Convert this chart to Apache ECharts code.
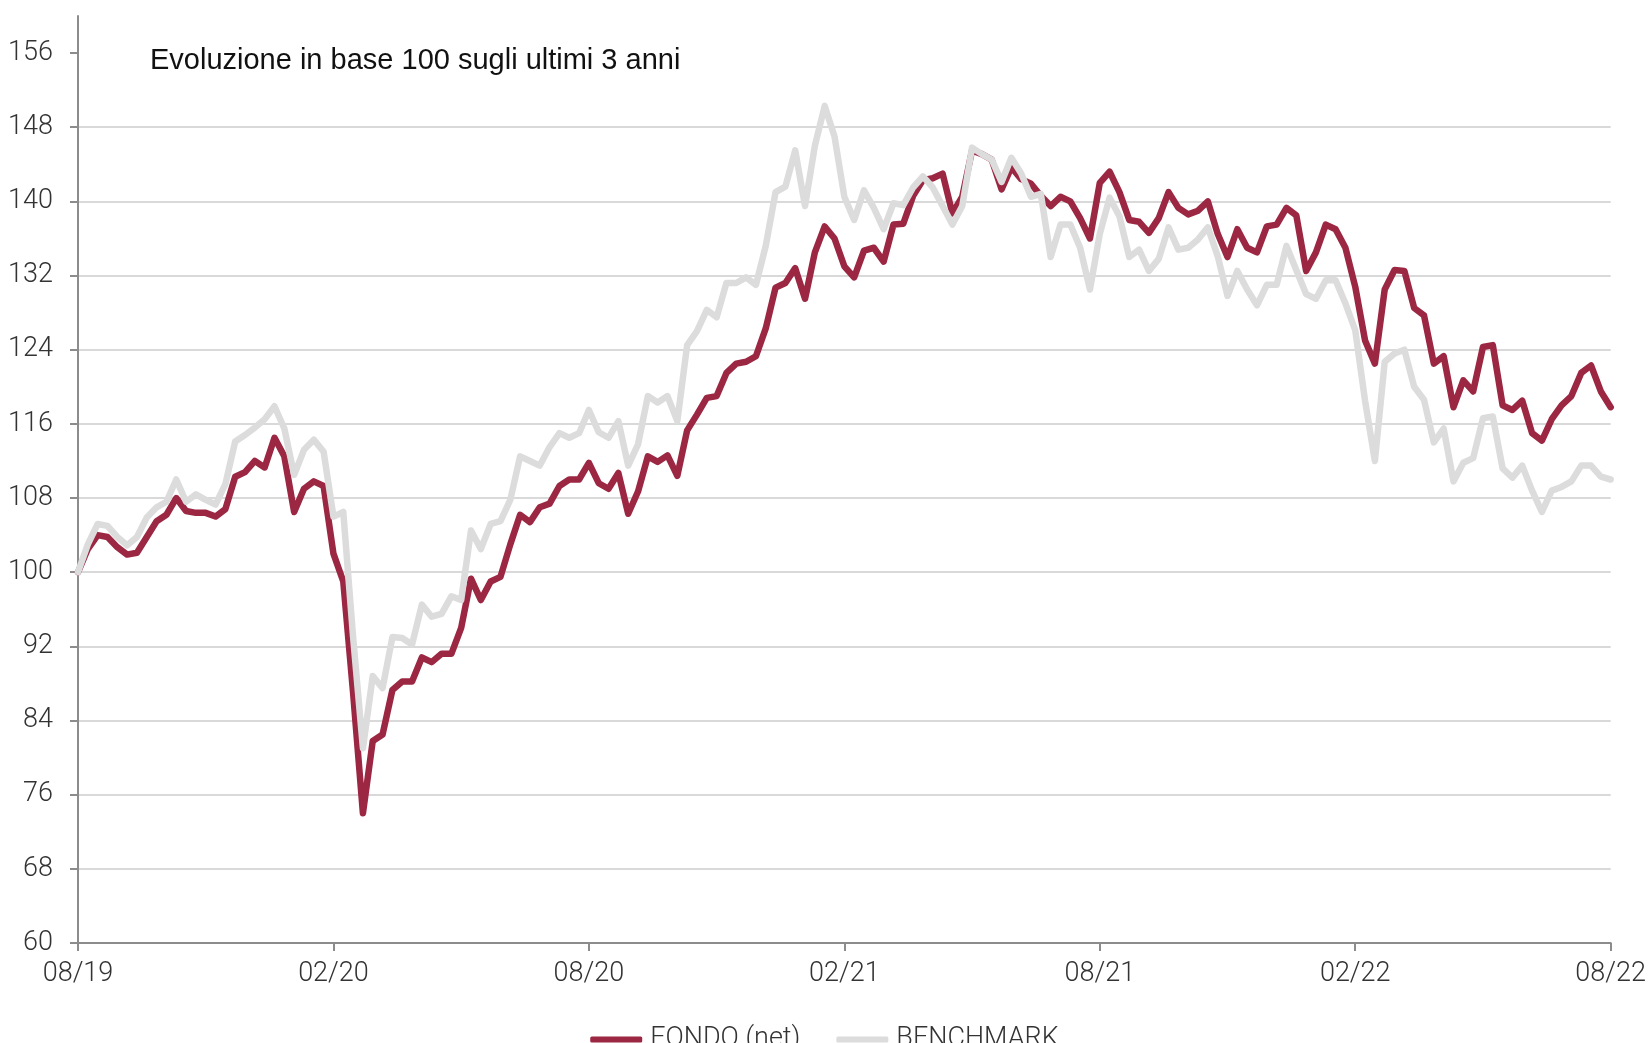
<!DOCTYPE html>
<html>
<head>
<meta charset="utf-8">
<script src="https://cdn.jsdelivr.net/npm/echarts@6/dist/echarts.min.js"></script>
<style>
html,body{margin:0;padding:0;background:#fff;}
#chart{width:1649px;height:1043px;}
</style>
</head>
<body>
<div id="chart"></div>
<script>
// Weekly observations, 08/2019 -> 08/2022 (157 points)
const startDate = '2019-08-30';
const tickLabels = ['08/19','02/20','08/20','02/21','08/21','02/22','08/22'];
const yTicks = [60,68,76,84,92,100,108,116,124,132,140,148,156];

const fondo = [
100,102.5,104,103.8,102.7,101.9,102.1,103.8,105.5,106.2,
108,106.6,106.4,106.4,106,106.8,110.3,110.8,112,111.3,
114.5,112.5,106.5,109,109.8,109.3,102,99,87,74,
81.8,82.5,87.3,88.2,88.2,90.8,90.3,91.2,91.2,94,
99.3,97,99,99.5,103,106.2,105.4,107,107.4,109.3,
110,110,111.8,109.6,109,110.7,106.3,108.7,112.5,111.9,
112.6,110.4,115.3,117,118.8,119,121.5,122.5,122.7,123.3,
126.3,130.7,131.2,132.8,129.5,134.5,137.3,136,133,131.8,
134.7,135,133.5,137.5,137.6,140.6,142.3,142.5,143,138.7,
140.5,145.5,145.1,144.5,141.3,143.7,142.4,141.9,140.6,139.5,
140.5,140,138.2,136,142,143.2,141,138,137.8,136.6,
138.2,141,139.3,138.6,139,140,136.5,134,137,135,
134.5,137.3,137.5,139.3,138.5,132.5,134.5,137.5,137,135,
130.8,125,122.5,130.5,132.6,132.5,128.5,127.7,122.5,123.3,
117.8,120.7,119.5,124.3,124.5,118,117.5,118.5,115,114.2,
116.5,118,119,121.5,122.3,119.5,117.8
];

const benchmark = [
100,103,105.2,105,103.8,102.9,103.8,105.9,107,107.6,
110,107.6,108.4,107.8,107.3,109.5,114.1,114.8,115.6,116.5,
117.9,115.5,110.5,113.2,114.3,113,106,106.5,93,81,
88.8,87.5,93,92.9,92.2,96.5,95.2,95.5,97.4,97,
104.5,102.5,105.2,105.5,107.8,112.5,112,111.5,113.5,115,
114.5,115,117.5,115.1,114.5,116.3,111.5,113.8,119,118.3,
119,116.3,124.5,126,128.3,127.5,131.2,131.2,131.8,131,
135.2,141,141.6,145.5,139.5,146,150.3,147,140.5,138,
141.2,139.3,137,139.8,139.6,141.5,142.7,141.5,139.5,137.5,
139.5,145.8,145.1,144.5,142.1,144.7,143,140.5,140.8,134,
137.5,137.5,135,130.5,136.5,140.4,138.4,134,134.8,132.5,
133.8,137.2,134.8,135,135.9,137.2,134.1,129.8,132.5,130.5,
128.8,131,131,135.2,132.6,130,129.5,131.5,131.5,129,
126.1,118.5,112,122.7,123.6,124,120,118.6,114,115.5,
109.8,111.8,112.3,116.6,116.8,111.2,110.2,111.5,108.8,106.5,
108.8,109.2,109.8,111.5,111.5,110.3,110
];

// category dates (weekly)
const categories = [];
{
  const d0 = new Date(startDate + 'T00:00:00Z');
  for (let i = 0; i < fondo.length; i++) {
    const d = new Date(d0.getTime() + i * 7 * 86400000);
    categories.push(d.toISOString().slice(0, 10));
  }
}
const tickStep = 26;

const tickFont = "Roboto, 'Liberation Sans', sans-serif";

const chart = echarts.init(document.getElementById('chart'), null, {renderer: 'canvas'});
chart.setOption({
  backgroundColor: '#ffffff',
  animation: false,
  title: {
    text: 'Evoluzione in base 100 sugli ultimi 3 anni',
    left: 150,
    top: 46,
    padding: 0,
    textStyle: {
      fontFamily: "'Liberation Sans', Arial, sans-serif",
      fontSize: 29,
      fontWeight: 'normal',
      color: '#111111'
    }
  },
  legend: {
    data: ['FONDO (net)', 'BENCHMARK'],
    left: 'center',
    top: 1021,
    icon: 'roundRect',
    itemWidth: 52,
    itemHeight: 6,
    itemGap: 36,
    textStyle: {
      fontFamily: tickFont,
      fontWeight: 300,
      fontSize: 27,
      color: '#333333',
      padding: [0, 0, 0, 3]
    }
  },
  grid: {
    left: 78,
    right: 36,
    top: 16,
    bottom: 100,
    containLabel: false
  },
  xAxis: {
    type: 'category',
    data: categories,
    boundaryGap: false,
    axisLine: {lineStyle: {color: '#8c8c8c', width: 2}},
    axisTick: {
      interval: function (idx) { return idx % tickStep === 0; },
      length: 8,
      lineStyle: {color: '#8c8c8c', width: 2}
    },
    axisLabel: {
      interval: function (idx) { return idx % tickStep === 0; },
      formatter: function (value, idx) {
        return idx % tickStep === 0 ? tickLabels[idx / tickStep] : '';
      },
      margin: 18,
      fontFamily: tickFont,
      fontWeight: 300,
      fontSize: 27,
      color: '#333333'
    },
    splitLine: {show: false}
  },
  yAxis: {
    type: 'value',
    min: 60,
    max: 160,
    interval: 8,
    axisLine: {show: true, lineStyle: {color: '#8c8c8c', width: 2}},
    axisTick: {
      show: true,
      length: 8,
      customValues: yTicks,
      lineStyle: {color: '#8c8c8c', width: 2}
    },
    axisLabel: {
      customValues: yTicks,
      margin: 25,
      fontFamily: tickFont,
      fontWeight: 300,
      fontSize: 27,
      color: '#333333'
    },
    splitLine: {
      show: true,
      showMaxLine: false,
      lineStyle: {color: '#d9d9d9', width: 2}
    }
  },
  series: [
    {
      name: 'FONDO (net)',
      type: 'line',
      data: fondo,
      symbol: 'none',
      smooth: false,
      lineStyle: {color: '#9b2743', width: 6.5, join: 'round', cap: 'round'},
      itemStyle: {color: '#9b2743'},
      z: 2
    },
    {
      name: 'BENCHMARK',
      type: 'line',
      data: benchmark,
      symbol: 'none',
      smooth: false,
      lineStyle: {color: '#dcdcdc', width: 6.5, join: 'round', cap: 'round'},
      itemStyle: {color: '#dcdcdc'},
      z: 3
    }
  ]
});
</script>
</body>
</html>
